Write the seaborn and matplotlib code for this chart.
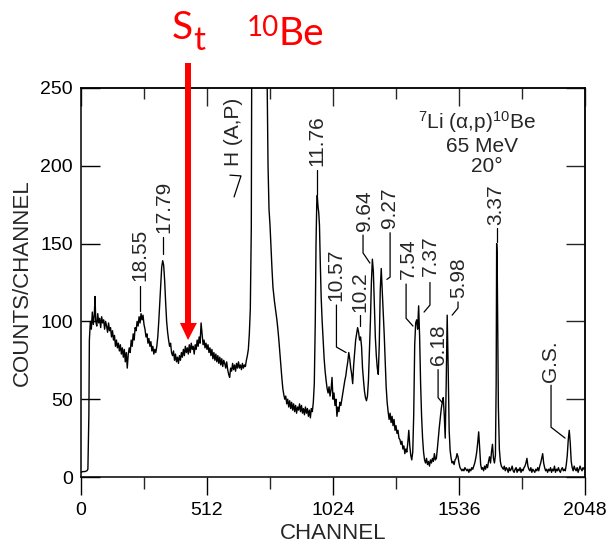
import matplotlib
matplotlib.use("Agg")
import matplotlib.pyplot as plt
import pandas as pd
import seaborn as sns

# ---- spectrum, (channel, counts per channel), 7Li(a,p)10Be at 65 MeV, 20 deg ----
continuum = [
    (0, 3), (8, 3.5), (16, 3.5), (24, 4), (28, 5), (32, 40), (34, 88), (38, 100),
    (42, 95), (46, 106), (50, 98), (54, 104), (57, 116), (60, 100), (64, 97), (68, 105),
    (72, 99), (76, 102), (80, 96), (84, 103), (88, 99), (92, 101), (96, 95), (100, 100),
    (104, 97), (108, 93), (112, 99), (116, 94), (120, 96), (124, 90), (128, 94), (132, 88),
    (136, 91), (140, 84), (144, 88), (148, 83), (152, 86), (156, 81), (160, 85), (164, 79),
    (168, 83), (172, 77), (176, 82), (180, 74), (184, 80), (188, 70), (192, 79), (196, 83),
    (200, 80), (204, 88), (208, 84), (212, 92), (216, 88), (220, 96), (224, 94), (228, 100),
    (232, 97), (236, 103), (240, 99), (244, 105), (248, 101), (252, 104), (256, 98), (260, 95),
    (264, 90), (268, 92), (272, 86), (276, 89), (280, 84), (284, 87), (288, 81), (292, 84),
    (296, 79), (300, 82), (304, 80), (308, 84), (312, 90), (316, 100), (320, 112), (324, 125),
    (328, 135), (332, 139), (336, 136), (340, 126), (344, 112), (348, 100), (352, 93), (356, 88),
    (360, 84), (364, 86), (368, 80), (372, 78), (376, 81), (380, 75), (384, 79), (388, 74),
    (392, 77), (396, 73), (400, 78), (404, 75), (408, 80), (412, 77), (416, 82), (420, 78),
    (424, 84), (428, 80), (432, 83), (436, 79), (440, 85), (444, 80), (448, 86), (452, 82),
    (456, 84), (460, 79), (464, 85), (468, 82), (472, 88), (476, 84), (480, 90), (484, 86),
    (488, 99), (492, 92), (496, 85), (500, 88), (504, 83), (508, 86), (512, 82), (516, 85),
    (520, 80), (524, 83), (528, 78), (532, 82), (536, 76), (540, 80), (544, 75), (548, 79),
    (552, 74), (556, 78), (560, 73), (564, 77), (568, 72), (572, 76), (576, 71), (580, 75),
    (584, 73), (588, 70), (592, 74), (596, 69), (600, 66), (604, 64), (608, 70), (612, 68),
    (616, 73), (620, 69), (624, 72), (628, 68), (632, 73), (636, 70), (640, 74), (644, 70),
    (648, 72), (652, 69), (656, 73), (660, 70), (664, 72), (668, 71), (672, 75), (676, 78),
    (680, 82), (684, 92),
]

hydrogen_and_1176 = [
    (688, 108), (692, 160), (696, 400), (720, 900), (748, 700), (752, 400), (756, 260),
    (760, 200), (764, 172), (768, 162), (772, 148), (776, 134), (780, 122), (786, 113),
    (792, 106), (796, 101), (800, 95), (804, 88), (808, 80), (812, 72), (816, 64), (820, 57),
    (824, 53), (828, 50), (832, 52), (836, 47), (840, 50), (844, 45), (848, 49), (852, 44),
    (856, 48), (860, 43), (864, 47), (868, 42), (872, 46), (876, 41), (880, 45), (884, 43),
    (888, 47), (892, 42), (896, 46), (900, 41), (904, 44), (908, 40), (912, 45), (916, 41),
    (920, 44), (924, 39), (928, 43), (932, 38), (936, 44), (940, 42), (944, 48), (948, 60),
    (952, 100), (955, 150), (958, 176), (960, 181), (963, 174), (966, 170), (969, 162),
    (972, 140), (976, 115), (980, 100), (984, 88), (988, 76), (992, 68), (996, 62),
]

excited_states = [
    (1000, 57), (1004, 54), (1008, 58), (1012, 52), (1016, 56), (1020, 64), (1024, 50),
    (1028, 54), (1032, 46), (1036, 50), (1040, 39), (1044, 45), (1048, 42), (1052, 48),
    (1056, 46), (1060, 50), (1064, 54), (1068, 58), (1072, 62), (1076, 65), (1080, 70),
    (1084, 74), (1088, 80), (1092, 76), (1096, 70), (1100, 66), (1104, 60), (1108, 72),
    (1112, 80), (1116, 88), (1120, 92), (1124, 96), (1128, 93), (1132, 88), (1136, 90),
    (1140, 84), (1144, 70), (1148, 62), (1152, 55), (1156, 51), (1160, 49), (1164, 52),
    (1168, 62), (1172, 80), (1176, 100), (1180, 125), (1184, 140), (1188, 132), (1192, 110),
    (1196, 90), (1200, 78), (1204, 70), (1208, 66), (1212, 85), (1216, 120), (1220, 134),
    (1224, 120), (1228, 105), (1232, 92), (1236, 75), (1240, 58), (1244, 48), (1248, 42),
    (1252, 37), (1256, 41), (1260, 35), (1264, 39), (1268, 33), (1272, 37), (1276, 30),
    (1280, 33), (1284, 28), (1288, 30), (1292, 25), (1296, 24), (1300, 21), (1304, 23),
    (1308, 18), (1312, 20), (1316, 15), (1320, 18), (1324, 16), (1328, 22), (1332, 30),
    (1336, 20), (1340, 14), (1344, 11), (1348, 16), (1352, 40), (1356, 85), (1360, 99),
    (1364, 101), (1368, 95), (1372, 110), (1376, 90), (1380, 60), (1384, 39), (1388, 25),
    (1392, 16), (1396, 11), (1400, 9), (1404, 12), (1408, 8), (1412, 10), (1416, 7),
    (1420, 11), (1424, 9), (1428, 12), (1432, 10), (1436, 15), (1440, 11), (1444, 12),
    (1448, 18), (1452, 25), (1456, 32), (1460, 38), (1464, 44), (1468, 48), (1472, 51),
    (1476, 40), (1480, 25), (1484, 60), (1488, 104), (1492, 70), (1496, 30),
]

low_lying = [
    (1500, 17), (1504, 12), (1508, 9), (1512, 10), (1516, 8), (1520, 11), (1524, 12),
    (1528, 15), (1532, 13), (1536, 9), (1540, 6), (1544, 5), (1548, 4), (1552, 5), (1556, 4),
    (1560, 6), (1564, 5), (1568, 4), (1572, 5), (1576, 3), (1580, 5), (1584, 4), (1588, 6),
    (1592, 5), (1596, 7), (1600, 9), (1604, 12), (1608, 16), (1612, 22), (1616, 29),
    (1620, 18), (1624, 8), (1628, 5), (1632, 6), (1636, 4), (1640, 7), (1644, 5), (1648, 8),
    (1652, 6), (1656, 10), (1660, 13), (1664, 9), (1668, 16), (1672, 21), (1676, 12),
    (1680, 9), (1684, 14), (1687, 60), (1689, 150), (1691, 142), (1693, 100), (1696, 45),
    (1700, 18), (1704, 10), (1708, 7), (1712, 6), (1716, 5), (1720, 7), (1724, 4), (1728, 6),
    (1732, 5), (1736, 3), (1740, 6), (1744, 4), (1748, 5), (1752, 7), (1756, 4), (1760, 3),
    (1764, 5), (1768, 6), (1772, 3), (1776, 5), (1780, 4), (1784, 6), (1788, 3), (1792, 5),
    (1796, 4), (1800, 6), (1804, 7), (1808, 9), (1812, 12), (1816, 7), (1820, 5), (1824, 4),
    (1828, 6), (1832, 3), (1836, 5), (1840, 4), (1844, 3), (1848, 5), (1852, 4), (1856, 6),
    (1860, 4), (1864, 7), (1868, 9), (1872, 12), (1876, 15), (1880, 9), (1884, 6), (1888, 4),
    (1892, 5), (1896, 3), (1900, 5), (1904, 4), (1908, 6), (1912, 3), (1916, 5), (1920, 4),
    (1924, 7), (1928, 3), (1932, 5), (1936, 4), (1940, 6), (1944, 4), (1948, 3), (1952, 5),
    (1956, 6), (1960, 4), (1964, 5), (1968, 4), (1972, 8), (1976, 14), (1980, 24), (1984, 30),
    (1988, 22), (1992, 10), (1996, 6), (2000, 4), (2004, 7), (2008, 5), (2012, 4), (2016, 6),
    (2020, 3), (2024, 5), (2028, 7), (2032, 5), (2036, 4), (2040, 6), (2044, 5), (2047, 6),
]

# peak labels (excitation energies in MeV)
peak_labels = ["18.55", "17.79", "H (A,P)", "11.76", "10.57", "10.2", "9.64",
               "9.27", "7.54", "7.37", "6.18", "5.98", "3.37", "G.S."]

x_ticks = [0, 512, 1024, 1536, 2048]
x_minor = [256, 768, 1280, 1792]
y_ticks = [0, 50, 100, 150, 200, 250]

# ---- figure ----
sns.set_theme(style="ticks")
plt.rcParams["font.family"] = ["Liberation Sans", "DejaVu Sans"]
plt.rcParams["mathtext.fontset"] = "custom"
plt.rcParams["mathtext.rm"] = "Liberation Sans"
plt.rcParams["mathtext.it"] = "Liberation Sans:italic"

W, H = 608, 548
fig = plt.figure(figsize=(W / 100, H / 100), dpi=100)
ax = fig.add_axes([81 / W, 71 / H, 504 / W, 389 / H])

spec = pd.DataFrame(continuum + hydrogen_and_1176 + excited_states + low_lying,
                    columns=["channel", "counts"])
sns.lineplot(data=spec, x="channel", y="counts", color="black", linewidth=1.0,
             estimator=None, sort=False, ax=ax)

ax.set_xlim(0, 2048)
ax.set_ylim(0, 250)
for s in ax.spines.values():
    s.set_linewidth(1.1)
    s.set_color("black")

ax.set_xticks(x_ticks)
ax.set_xticks(x_minor, minor=True)
ax.set_yticks(y_ticks)
ax.tick_params(axis="x", which="major", direction="out", length=13, width=1.0,
               labelsize=14, pad=5, colors="black")
ax.tick_params(axis="x", which="minor", direction="out", length=8.5, width=1.0)
ax.tick_params(axis="y", which="major", direction="in", length=13.5, width=1.0,
               labelsize=14, pad=6, colors="black")

top = ax.secondary_xaxis("top")
top.set_xticks(x_ticks)
top.set_xticks(x_minor, minor=True)
top.tick_params(which="major", direction="in", length=13, width=1.0, labeltop=False)
top.tick_params(which="minor", direction="in", length=8, width=1.0)
top.spines["top"].set_linewidth(1.1)

right = ax.secondary_yaxis("right")
right.set_yticks(y_ticks)
right.tick_params(direction="in", length=13.5, width=1.0, labelright=False)
right.spines["right"].set_linewidth(1.1)

ax.set_xlabel("CHANNEL", fontsize=16, labelpad=3)
ax.set_ylabel("COUNTS/CHANNEL", fontsize=16, labelpad=5)

# ---- peak annotations: label anchor (channel, counts) and leader line ----
label_anchor = [(240, 126), (337, 157), (618, 200), (959, 200), (1036, 113), (1134, 106),
                (1150, 158), (1252, 160), (1329, 127), (1418, 129), (1451, 72),
                (1536, 115), (1686, 162), (1906, 61)]
leaders = [
    ([240, 240], [123, 107]),
    ([333, 333], [154, 143]),
    ([605, 650, 622], [194, 193.5, 180]),
    ([959, 959], [197, 181]),
    ([1038, 1038, 1077], [110.5, 83.5, 80]),
    ([1132, 1132], [104, 97]),
    ([1146, 1146, 1174], [155.5, 144, 137.5]),
    ([1256, 1256, 1243], [157, 128.5, 127]),
    ([1321, 1321, 1349], [124, 102, 97]),
    ([1418, 1418, 1394], [125, 110.5, 106]),
    ([1451, 1451, 1467], [69, 51, 48]),
    ([1532, 1532, 1508], [112.5, 108.6, 104]),
    ([1690, 1690], [160, 151]),
    ([1910, 1910, 1967], [59, 32, 25]),
]
for text, (lx, ly), (xs, ys) in zip(peak_labels, label_anchor, leaders):
    ax.text(lx, ly, text, rotation=90, ha="center", va="bottom", fontsize=15)
    ax.plot(xs, ys, color="black", linewidth=0.9)

# reaction description
ax.text(1609, 224, "$^{7}$Li (\u03b1,p)$^{10}$Be", ha="center", va="baseline", fontsize=15)
ax.text(1630, 209, "65 MeV", ha="center", va="baseline", fontsize=15)
ax.text(1650, 196, "20\u00b0", ha="center", va="baseline", fontsize=15)

# ---- red marker for the S_t threshold ----
ax.plot([435, 435], [266, 97], color="red", linewidth=4.3, clip_on=False,
        solid_capstyle="butt", zorder=5)
ax.fill([402, 471, 435], [99, 99, 88], color="red", clip_on=False, zorder=5,
        linewidth=0)

def fpos(x, y):
    return x / W, 1 - y / H

red = dict(color="red", family=["Lato", "DejaVu Sans"], ha="left", va="baseline")
fig.text(*fpos(172, 39), "S", fontsize=28, **red)
fig.text(*fpos(193, 50), "t", fontsize=24, **red)
fig.text(*fpos(247, 36), "10", fontsize=20, **red)
fig.text(*fpos(278, 45), "Be", fontsize=28, **red)

fig.savefig("out.png", dpi=100, facecolor="white")
